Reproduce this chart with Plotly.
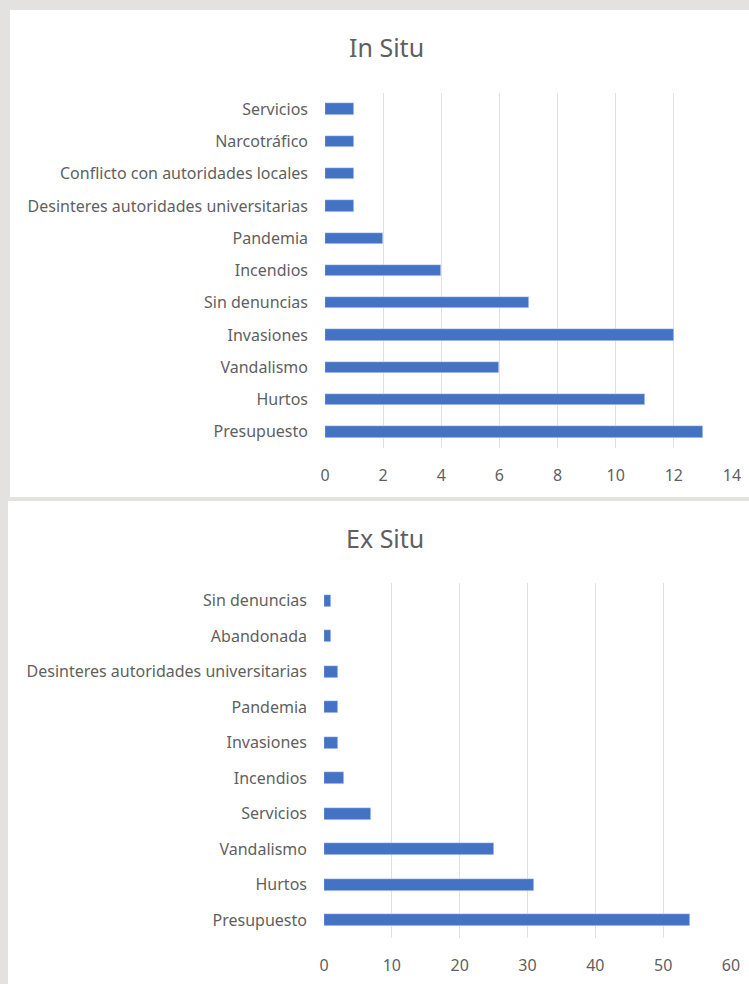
import plotly.graph_objects as go

W, H = 749, 984

# ---- data ----
in_situ_categories = ["Servicios", "Narcotráfico", "Conflicto con autoridades locales",
                      "Desinteres autoridades universitarias", "Pandemia", "Incendios",
                      "Sin denuncias", "Invasiones", "Vandalismo", "Hurtos", "Presupuesto"]
in_situ_values = [1, 1, 1, 1, 2, 4, 7, 12, 6, 11, 13]
in_situ_ticks = [0, 2, 4, 6, 8, 10, 12, 14]

ex_situ_categories = ["Sin denuncias", "Abandonada", "Desinteres autoridades universitarias",
                      "Pandemia", "Invasiones", "Incendios", "Servicios", "Vandalismo",
                      "Hurtos", "Presupuesto"]
ex_situ_values = [1, 1, 2, 2, 2, 3, 7, 25, 31, 54]
ex_situ_ticks = [0, 10, 20, 30, 40, 50, 60]

BAR = "#4472C4"
GRID = "#e0e0e0"
TXT = "#5f5f5f"
FONT = "Noto Sans"
GRAYBG = "#e3e2e0"


def px_x(p):
    return p / W


def px_y(p):
    return 1 - p / H


fig = go.Figure()
fig.add_trace(go.Bar(x=in_situ_values, y=in_situ_categories, orientation="h",
                     marker=dict(color=BAR), width=0.35, xaxis="x", yaxis="y",
                     hoverinfo="x+y"))
fig.add_trace(go.Bar(x=ex_situ_values, y=ex_situ_categories, orientation="h",
                     marker=dict(color=BAR), width=0.35, xaxis="x2", yaxis="y2",
                     hoverinfo="x+y"))

axis_common = dict(showline=False, zeroline=False, ticks="", automargin=False,
                   tickfont=dict(family=FONT, size=16, color=TXT))

fig.update_layout(
    width=W, height=H,
    margin=dict(l=0, r=0, t=0, b=0, pad=0),
    paper_bgcolor=GRAYBG,
    plot_bgcolor="rgba(0,0,0,0)",
    showlegend=False,
    bargap=0,
    xaxis=dict(domain=[px_x(325), px_x(732)], range=[0, 14], tickvals=in_situ_ticks,
               showgrid=True, gridcolor=GRID, gridwidth=1, anchor="y",
               ticklabelstandoff=16, **axis_common),
    yaxis=dict(domain=[px_y(448), px_y(93)], type="category", autorange="reversed",
               showgrid=False, anchor="x", ticklabelstandoff=16, **axis_common),
    xaxis2=dict(domain=[px_x(324), px_x(731)], range=[0, 60], tickvals=ex_situ_ticks,
                showgrid=True, gridcolor=GRID, gridwidth=1, anchor="y2",
                ticklabelstandoff=16, **axis_common),
    yaxis2=dict(domain=[px_y(938), px_y(583)], type="category", autorange="reversed",
                showgrid=False, anchor="x2", ticklabelstandoff=16, **axis_common),
    shapes=[
        dict(type="rect", xref="paper", yref="paper", layer="below",
             x0=px_x(10), x1=1, y0=px_y(497), y1=px_y(10),
             fillcolor="white", line=dict(width=0)),
        dict(type="rect", xref="paper", yref="paper", layer="below",
             x0=px_x(8), x1=1, y0=0, y1=px_y(501),
             fillcolor="white", line=dict(width=0)),
    ],
    annotations=[
        dict(text="In Situ", xref="paper", yref="paper", x=px_x(386), y=px_y(47),
             xanchor="center", yanchor="middle", showarrow=False,
             font=dict(family=FONT, size=25, color=TXT)),
        dict(text="Ex Situ", xref="paper", yref="paper", x=px_x(385), y=px_y(538),
             xanchor="center", yanchor="middle", showarrow=False,
             font=dict(family=FONT, size=25, color=TXT)),
    ],
)

fig.write_html("out.html", config={"displayModeBar": False},
               post_script="document.body.style.margin='0';document.body.style.overflow='hidden';")
